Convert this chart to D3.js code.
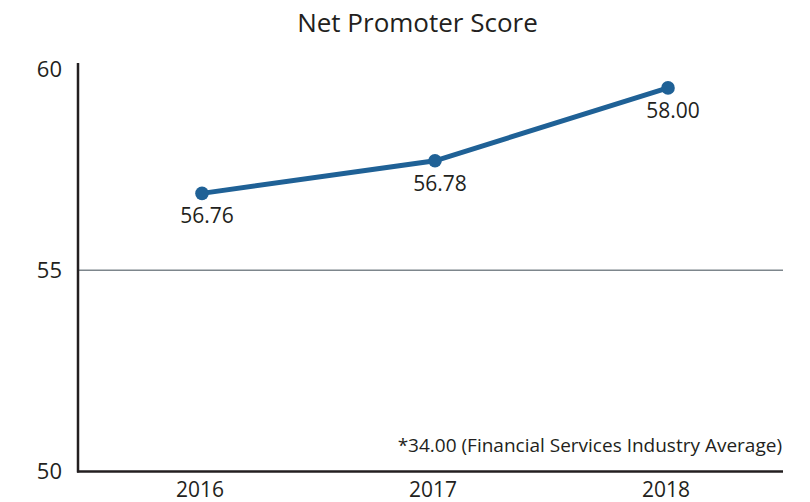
<!DOCTYPE html>
<html>
<head>
<meta charset="utf-8">
<script src="https://cdn.jsdelivr.net/npm/d3@7"></script>
<style>
  body { margin: 0; background: #fff; }
  text { font-family: "Open Sans", sans-serif; fill: #231f20; }
</style>
</head>
<body>
<div id="chart"></div>
<script>
// datos
const years = ["2016", "2017", "2018"];
const plotted = [56.91, 57.72, 59.53];        // posición dibujada de cada punto
const labels = ["56.76", "56.78", "58.00"];   // etiqueta que aparece en el gráfico
const yTicks = [50, 55, 60];
const title = "Net Promoter Score";
const note = "*34.00 (Financial Services Industry Average)";

const width = 810, height = 502;
const mLeft = 78, mRight = 783, mTop = 63, mBottom = 471.5;

const svg = d3.select("#chart").append("svg")
    .attr("width", width)
    .attr("height", height);

const x = d3.scalePoint(years, [200, 666]);
const y = d3.scaleLinear([50, 60], [mBottom, 69]);

// título
svg.append("text")
    .attr("x", 417.5).attr("y", 32)
    .attr("text-anchor", "middle")
    .style("font-size", "26px")
    .text(title);

// línea de rejilla en 55
svg.append("line")
    .attr("x1", mLeft).attr("x2", mRight)
    .attr("y1", y(55)).attr("y2", y(55))
    .attr("stroke", "#7d868c").attr("stroke-width", 1.3);

// etiquetas del eje y
svg.selectAll(".ytick")
    .data(yTicks)
    .enter().append("text")
    .attr("x", 62)
    .attr("y", d => y(d))
    .attr("dy", "0.35em")
    .attr("text-anchor", "end")
    .style("font-size", "22px")
    .text(d => d);

// ejes
svg.append("line")
    .attr("x1", mLeft).attr("x2", mLeft)
    .attr("y1", mTop).attr("y2", mBottom + 1)
    .attr("stroke", "#231f20").attr("stroke-width", 2.5);
svg.append("line")
    .attr("x1", mLeft - 1).attr("x2", mRight)
    .attr("y1", mBottom).attr("y2", mBottom)
    .attr("stroke", "#231f20").attr("stroke-width", 2.5);

// etiquetas del eje x
svg.selectAll(".xtick")
    .data(years)
    .enter().append("text")
    .attr("x", d => x(d))
    .attr("y", 497)
    .attr("text-anchor", "middle")
    .style("font-size", "21px")
    .text(d => d);

// serie
const pts = years.map((yr, i) => ({ year: yr, v: plotted[i], label: labels[i] }));
const cx = d => x(d.year) + 2;

svg.append("path")
    .datum(pts)
    .attr("fill", "none")
    .attr("stroke", "#1f6196")
    .attr("stroke-width", 5)
    .attr("d", d3.line().x(cx).y(d => y(d.v)));

svg.selectAll("circle")
    .data(pts)
    .enter().append("circle")
    .attr("cx", cx)
    .attr("cy", d => y(d.v))
    .attr("r", 6.8)
    .attr("fill", "#1f6196");

svg.selectAll(".lbl")
    .data(pts)
    .enter().append("text")
    .attr("x", d => cx(d) + 5)
    .attr("y", d => y(d.v) + 30)
    .attr("text-anchor", "middle")
    .style("font-size", "21px")
    .text(d => d.label);

// nota al pie
svg.append("text")
    .attr("x", 782).attr("y", 452)
    .attr("text-anchor", "end")
    .style("font-size", "19px")
    .text(note);
</script>
</body>
</html>
